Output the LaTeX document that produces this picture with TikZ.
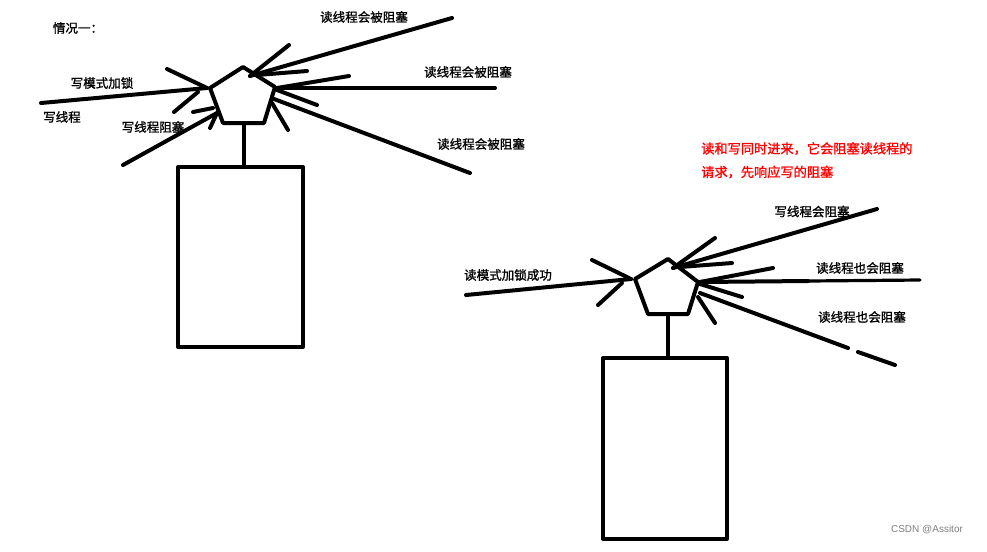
\documentclass[tikz,border=0pt]{standalone}
\usepackage{fontspec}
\newfontfamily\cjk[AutoFakeBold=1.2]{Noto Sans CJK SC}
\setsansfont{Liberation Sans}
\begin{document}
\begin{tikzpicture}[x=0.75pt,y=-0.75pt,
  ink/.style={line width=3pt,line cap=round,line join=round},
  thin ink/.style={line width=2.4pt,line cap=round},
  lbl/.style={font=\cjk\bfseries\fontsize{9.4pt}{11pt}\selectfont,inner sep=0pt},
  redlbl/.style={font=\cjk\bfseries\fontsize{9.9pt}{17.6pt}\selectfont,text=red,inner sep=0pt,align=left,anchor=north west},
  wmark/.style={font=\sffamily\fontsize{7.5pt}{9pt}\selectfont,text=gray,inner sep=0pt}]
\useasboundingbox (0,0) rectangle (987,551);
\fill[white] (0,0) rectangle (987,551);

% ---------- left figure ----------
\coordinate (LT) at (243,67);
\coordinate (LL) at (210,88);
\coordinate (LBL) at (223,123);
\coordinate (LBR) at (264,123);
\coordinate (LR) at (275,87);
\draw[ink] (LT) -- (LR) -- (LBR) -- (LBL) -- (LL) -- cycle;
\coordinate (LS) at (243.5,123);
\draw[ink] (178,167) rectangle (303,347);
\coordinate (LboxTop) at (243.5,167);
\draw[ink] (LS) -- (LboxTop);

% left incoming lines
\coordinate (a1s) at (41,103); \coordinate (a1e) at (207,88);
\coordinate (a1u) at (167,69); \coordinate (a1l) at (174,112); \coordinate (a1le) at (198,92);
\draw[ink] (a1s) -- (a1e);
\draw[ink] (a1u) -- (a1e);
\draw[ink] (a1l) -- (a1le);
\coordinate (a2s) at (123,165); \coordinate (a2e) at (217,113);
\coordinate (a2h) at (193,112); \coordinate (a2he) at (213,108);
\coordinate (a2v) at (210,128);
\draw[ink] (a2s) -- (a2e);
\draw[ink] (a2h) -- (a2he);
\draw[ink] (a2v) -- (a2e);

% right incoming lines
\coordinate (b1s) at (452,18); \coordinate (b1e) at (250,76);
\coordinate (b1u) at (289,45); \coordinate (b1l) at (307,71); \coordinate (b1le) at (257,75);
\draw[ink] (b1s) -- (b1e);
\draw[ink] (b1u) -- (b1e);
\draw[ink] (b1l) -- (b1le);
\coordinate (b2s) at (495,88); \coordinate (b2e) at (277,88);
\coordinate (b2u) at (349,76); \coordinate (b2d) at (317,105);
\draw[ink] (b2s) -- (b2e);
\draw[ink] (b2u) -- (b2e);
\draw[ink] (b2d) -- (277,90);
\coordinate (b3s) at (470,173); \coordinate (b3e) at (274,99);
\coordinate (b3d) at (288,130);
\draw[ink] (b3s) -- (b3e);
\draw[ink] (b3d) -- (272,103);

% left labels
\node[lbl] (t0) at (78,28) {情况一：};
\node[lbl] (t1) at (102,83) {写模式加锁};
\node[lbl] (t2) at (62,117) {写线程};
\node[lbl] (t3) at (153,127) {写线程阻塞};
\node[lbl] (t4) at (364,17) {读线程会被阻塞};
\node[lbl] (t5) at (468,72) {读线程会被阻塞};
\node[lbl] (t6) at (481,144) {读线程会被阻塞};

% ---------- right figure ----------
\coordinate (RT) at (668,259);
\coordinate (RL) at (635,279);
\coordinate (RBL) at (648,314);
\coordinate (RBR) at (688,314);
\coordinate (RR) at (698,282);
\draw[ink] (RT) -- (RR) -- (RBR) -- (RBL) -- (RL) -- cycle;
\coordinate (RS) at (667.5,314);
\coordinate (RboxTop) at (667.5,358);
\draw[ink] (603,358) rectangle (727,539);
\draw[ink] (RS) -- (RboxTop);

\coordinate (c1s) at (466,295); \coordinate (c1e) at (631,279);
\coordinate (c1u) at (592,260); \coordinate (c1l) at (598,305); \coordinate (c1le) at (622,283);
\draw[ink] (c1s) -- (c1e);
\draw[ink] (c1u) -- (c1e);
\draw[ink] (c1l) -- (c1le);

\coordinate (d1s) at (877,209); \coordinate (d1e) at (673,268);
\coordinate (d1u) at (715,238); \coordinate (d1l) at (732,263); \coordinate (d1le) at (680,267);
\draw[ink] (d1s) -- (d1e);
\draw[ink] (d1u) -- (d1e);
\draw[ink] (d1l) -- (d1le);
\coordinate (d2s) at (920,280); \coordinate (d2m) at (808,281); \coordinate (d2e) at (700,282);
\coordinate (d2u) at (773,268); \coordinate (d2d) at (742,297);
\draw[thin ink] (d2s) -- (d2m);
\draw[ink] (d2m) -- (d2e);
\draw[ink] (d2u) -- (d2e);
\draw[ink] (d2d) -- (700,284);
\coordinate (d3e) at (700,293); \coordinate (d3m) at (848,348);
\coordinate (d3n) at (858,352); \coordinate (d3s) at (895,365);
\coordinate (d3d) at (715,323);
\draw[ink] (d3e) -- (d3m);
\draw[ink] (d3n) -- (d3s);
\draw[ink] (d3d) -- (698,297);

\node[lbl] (u1) at (508,275) {读模式加锁成功};
\node[lbl] (u2) at (812,211.5) {写线程会阻塞};
\node[lbl] (u3) at (860,268) {读线程也会阻塞};
\node[lbl] (u4) at (862,317) {读线程也会阻塞};
\node[redlbl] (note) at (701,142) {读和写同时进来，它会阻塞读线程的\\请求，先响应写的阻塞};

\node[wmark] (wm) at (927,530) {CSDN @Assitor};
\end{tikzpicture}
\end{document}
